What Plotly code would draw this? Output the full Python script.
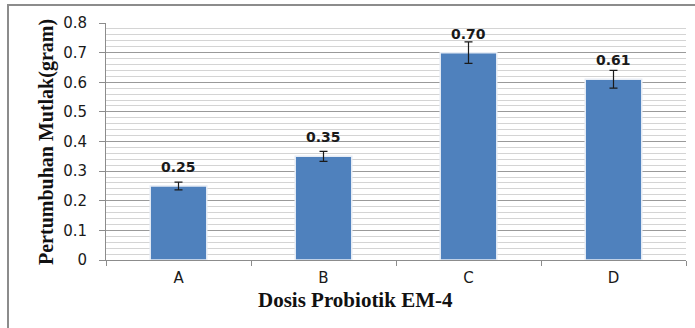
import plotly.graph_objects as go

categories = ["A", "B", "C", "D"]
values = [0.25, 0.35, 0.70, 0.61]
errors = [0.013, 0.017, 0.036, 0.030]
labels = ["0.25", "0.35", "0.70", "0.61"]
ytickvals = [0, 0.1, 0.2, 0.3, 0.4, 0.5, 0.6, 0.7, 0.8]
yticktext = ["0", "0.1", "0.2", "0.3", "0.4", "0.5", "0.6", "0.7", "0.8"]

fig = go.Figure()
fig.add_trace(go.Bar(
    x=categories, y=values,
    marker=dict(color="#4F81BD", line=dict(color="#E6ECF5", width=1.5)),
    error_y=dict(type="data", array=errors, visible=True, color="#1a1a1a",
                 thickness=1.2, width=4),
    width=0.39,
    hoverinfo="skip",
))

for c, v, t in zip(categories, values, labels):
    fig.add_annotation(x=c, y=v, text="<b>" + t + "</b>", showarrow=False,
                       yanchor="middle", yshift=19,
                       font=dict(family="DejaVu Sans", size=14, color="#1a1a1a"))

W, H = 695, 328
L, R, T, B = 106, 9, 23, 68
pw, ph = W - L - R, H - T - B

fig.add_annotation(xref="paper", yref="paper", x=(355 - L) / pw, y=-(300 - T - ph) / ph,
                   text="<b>Dosis Probiotik EM-4</b>", showarrow=False,
                   xanchor="center", yanchor="middle",
                   font=dict(family="Liberation Serif", size=21, color="#111"))
fig.add_annotation(xref="paper", yref="paper", x=(46 - L) / pw, y=1 - (142 - T) / ph,
                   text="<b>Pertumbuhan Mutlak(gram)</b>", showarrow=False, textangle=-90,
                   xanchor="center", yanchor="middle",
                   font=dict(family="Liberation Serif", size=20, color="#111"))

fig.add_shape(type="rect", xref="paper", yref="paper",
              x0=(8 - L) / pw, x1=(W + 20 - L) / pw,
              y0=-(H + 20 - T - ph) / ph, y1=1 + (T - 5) / ph,
              line=dict(color="#8c8c8c", width=2), layer="above")

fig.update_layout(
    width=W, height=H,
    margin=dict(l=L, r=R, t=T, b=B, autoexpand=False),
    paper_bgcolor="white", plot_bgcolor="white",
    showlegend=False,
    xaxis=dict(
        range=[-0.5, 3.5], showline=True, linecolor="#8c8c8c", linewidth=1,
        ticks="outside", tickson="boundaries", ticklen=5, tickcolor="#8c8c8c",
        tickfont=dict(family="DejaVu Sans", size=15, color="#1a1a1a"),
        ticklabelstandoff=4,
        automargin=False,
    ),
    yaxis=dict(
        range=[0, 0.8], tickvals=ytickvals, ticktext=yticktext,
        showline=True, linecolor="#8c8c8c", linewidth=1,
        ticks="outside", ticklen=6, tickcolor="#8c8c8c",
        tickfont=dict(family="DejaVu Sans", size=15, color="#1a1a1a"),
        ticklabelstandoff=9,
        showgrid=True, gridcolor="#9a9a9a", gridwidth=1, zeroline=False,
        minor=dict(dtick=0.02, showgrid=True, gridcolor="#d4d4d4", gridwidth=1),
        automargin=False,
    ),
)

fig.write_html("out.html", config={"displayModeBar": False},
               post_script="document.body.style.margin='0';")
